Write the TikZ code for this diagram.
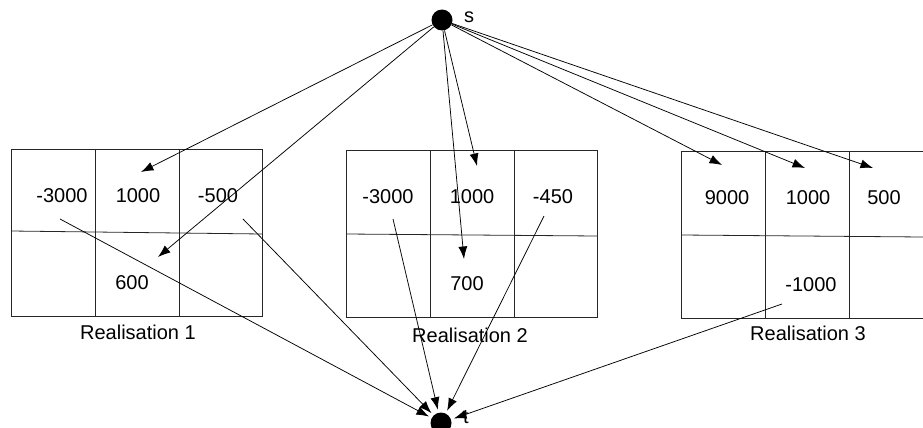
\documentclass[tikz,border=0pt]{standalone}
\usepackage{fontspec}
\setmainfont{Liberation Sans}
\usetikzlibrary{arrows.meta}
\begin{document}
\begin{tikzpicture}[x=1pt,y=-1pt,
  grid/.style={draw=black!85, line width=0.8pt},
  conn/.style={-{Latex[length=12.5pt,width=9pt]}, line width=0.75pt},
  toT/.style={conn, shorten >=3pt},
  vert/.style={circle, fill=black, minimum size=21pt, inner sep=0pt},
  val/.style={inner sep=0pt, font=\fontsize{20}{24}\selectfont},
  caption/.style={inner sep=0pt, font=\fontsize{20}{24}\selectfont}]
\useasboundingbox (0,0) rectangle (923,428);
% vertices
\node[vert] (s) at (442,20) {};
\node[val, anchor=west] (slab) at (464,17) {s};
\node[vert] (t) at (441,423) {};
\node[val, anchor=west] (tlab) at (463,417) {t};
% box 1
\draw[grid] (11,149) rectangle (262,316);
\draw[grid] (11,231) -- (262,234);
\draw[grid] (95,149) -- (95,316);
\draw[grid] (179,149) -- (179,316);
% box 2
\draw[grid] (346,150) rectangle (597,317);
\draw[grid] (346,234) -- (597,236);
\draw[grid] (430,150) -- (430,317);
\draw[grid] (514,150) -- (514,317);
% box 3
\draw[grid] (923,151) -- (681,151) -- (681,318) -- (923,318);
\draw[grid] (681,235) -- (923,237);
\draw[grid] (765,151) -- (765,318);
\draw[grid] (849,151) -- (849,318);
% values
\node[val] (a1) at (62,196) {-3000};
\node[val] (a2) at (138,196) {1000};
\node[val] (a3) at (218,196) {-500};
\node[val] (a5) at (132,283) {600};
\node[val] (b1) at (388,197) {-3000};
\node[val] (b2) at (472,197) {1000};
\node[val] (b3) at (553,197) {-450};
\node[val] (b5) at (467,284) {700};
\node[val] (c1) at (727,198) {9000};
\node[val] (c2) at (808,198) {1000};
\node[val] (c3) at (884,198) {500};
\node[val] (c5) at (811,285) {-1000};
\node[caption] (r1) at (138,332) {Realisation 1};
\node[caption] (r2) at (470,335) {Realisation 2};
\node[caption] (r3) at (808,333) {Realisation 3};
% arrow tips / line starts
\coordinate (ea2) at (141,172);
\coordinate (ea5) at (158,257);
\coordinate (eb2) at (477,166);
\coordinate (eb5) at (464,259);
\coordinate (ec1) at (722,165);
\coordinate (ec2) at (805,168);
\coordinate (ec3) at (873,168);
\coordinate (sa1) at (60,219);
\coordinate (sa3) at (243,219);
\coordinate (sb1) at (393,219);
\coordinate (sb3) at (544,216);
\coordinate (sc5) at (782,304);
% arrows from s
\foreach \e in {ea2,ea5,eb2,eb5,ec1,ec2,ec3}
  \draw[conn] (s) -- (\e);
% arrows to t
\foreach \b in {sa1,sa3,sb1,sb3,sc5}
  \draw[toT] (\b) -- (t);
\end{tikzpicture}
\end{document}
